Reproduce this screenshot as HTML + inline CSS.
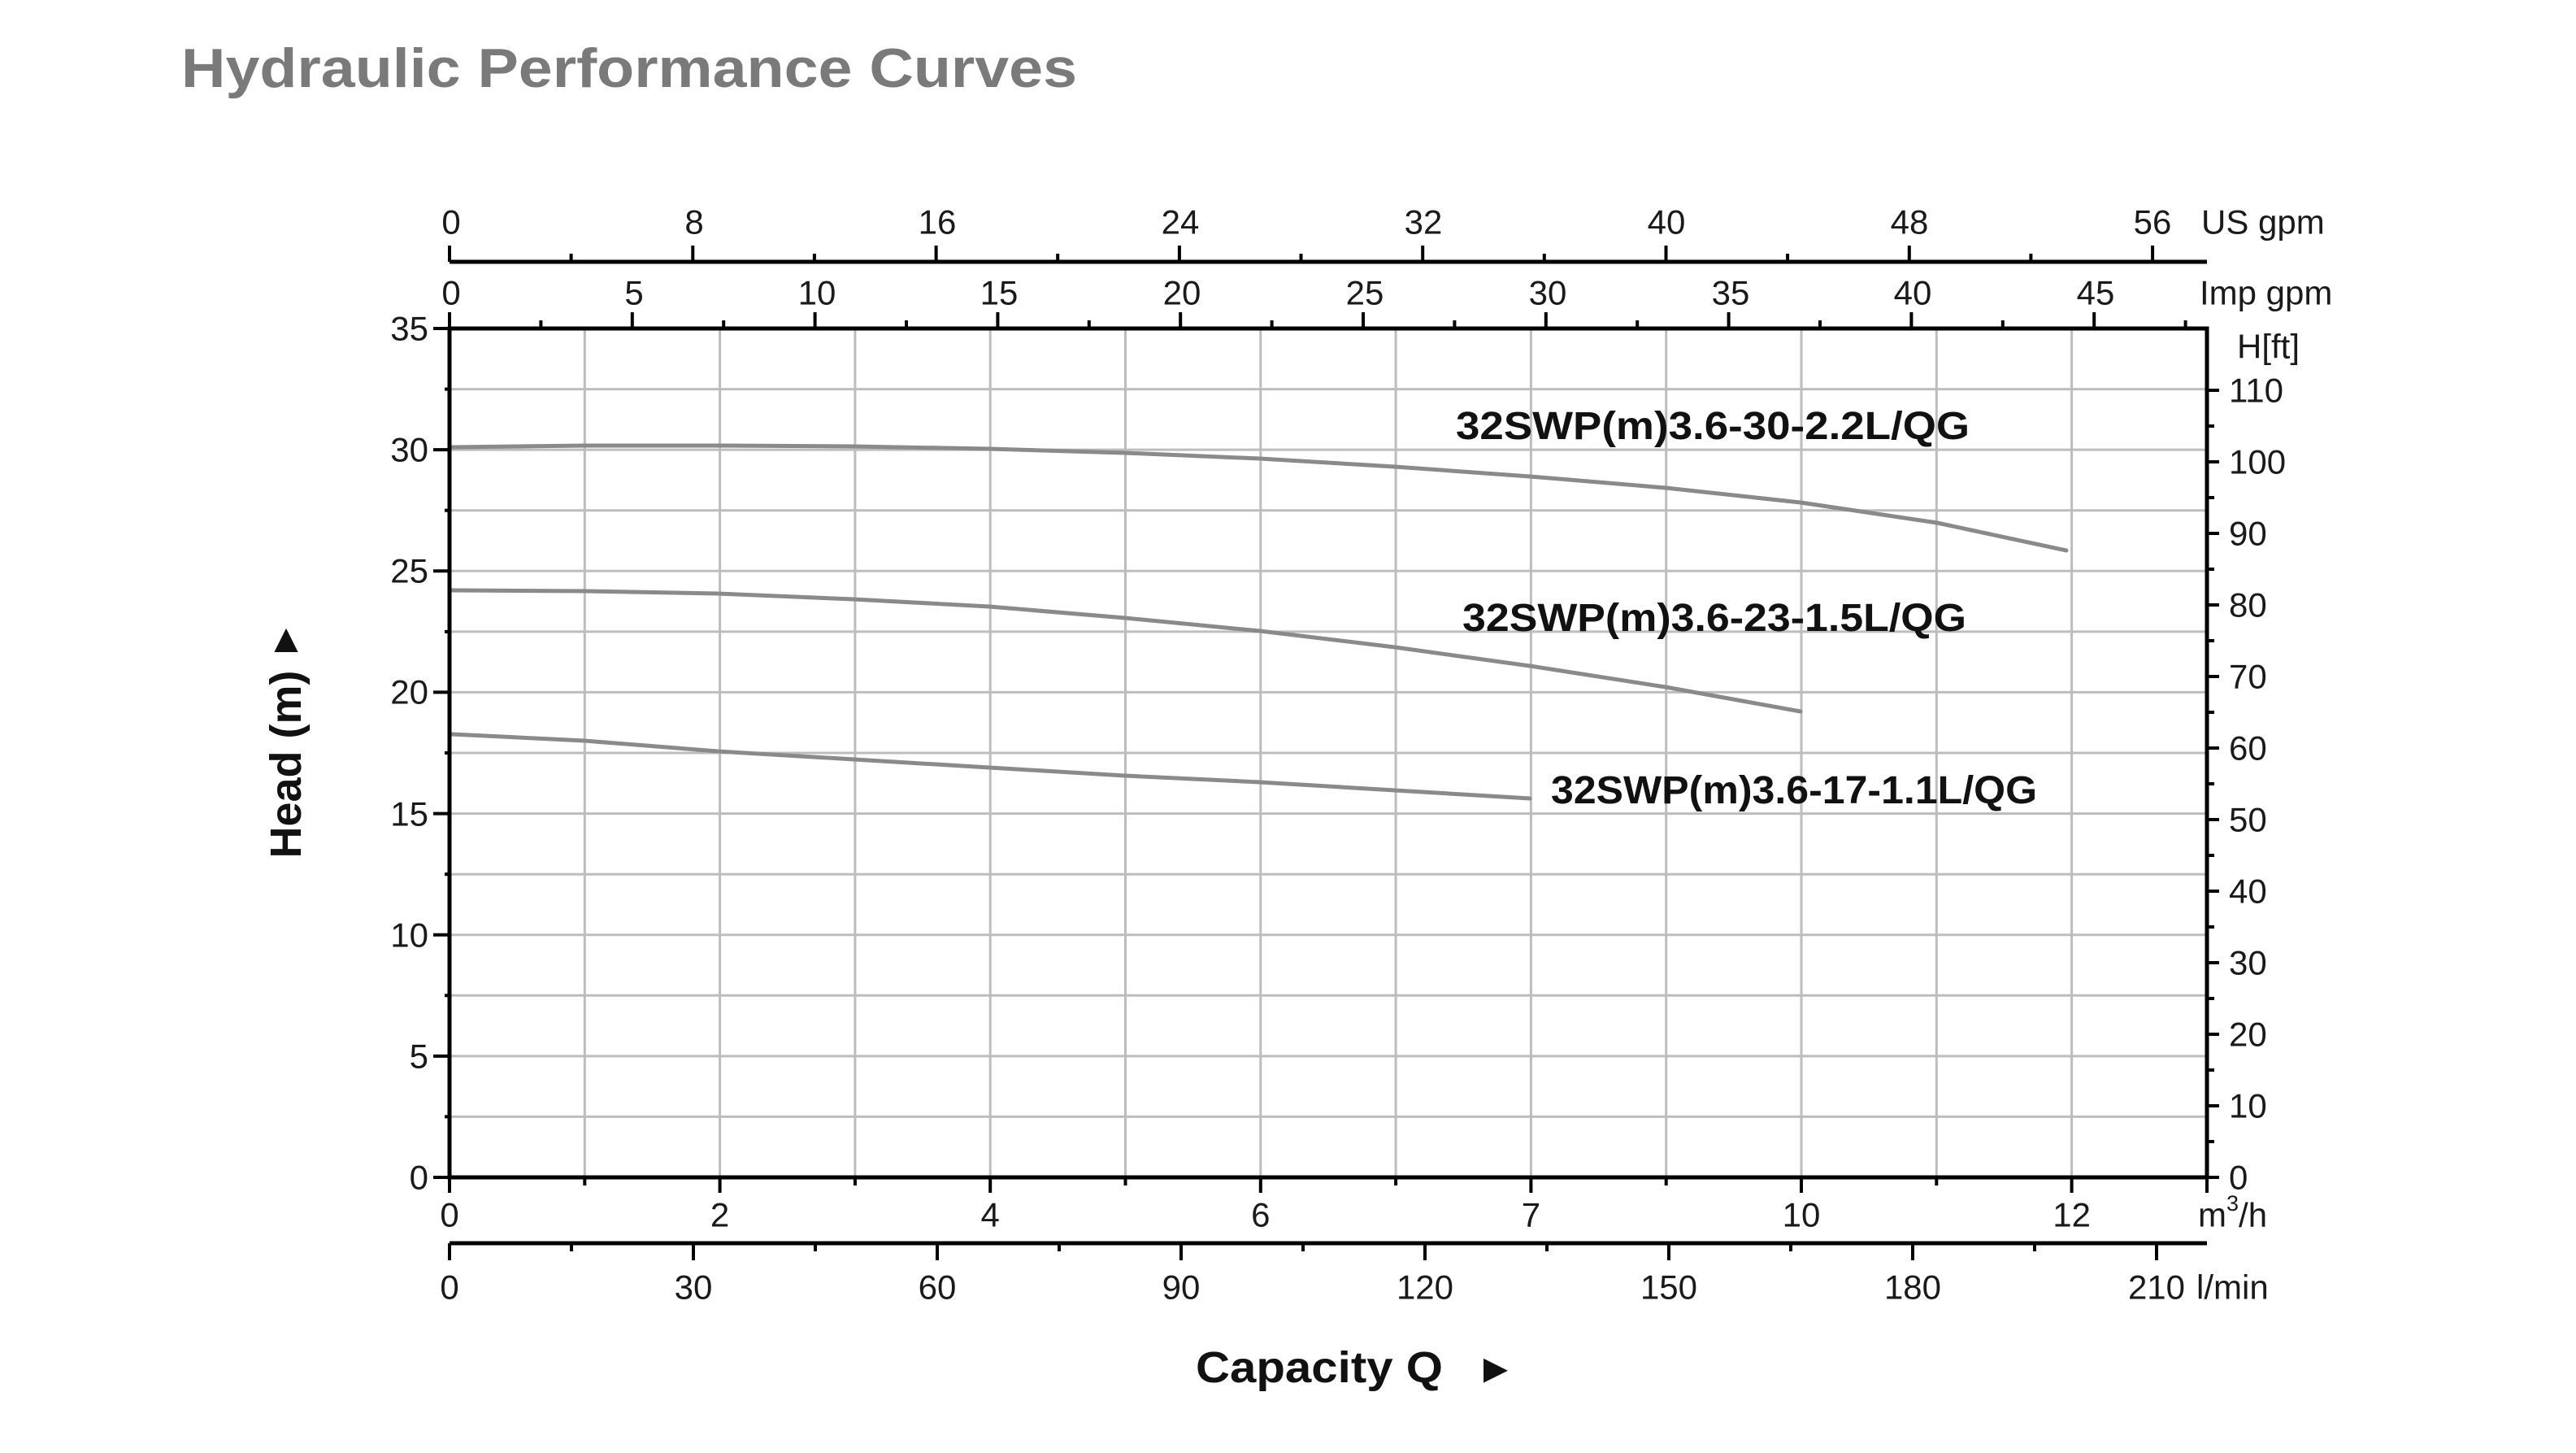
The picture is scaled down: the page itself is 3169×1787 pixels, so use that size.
<!DOCTYPE html>
<html><head><meta charset="utf-8"><style>
html,body{margin:0;padding:0;background:#fff;}
svg{display:block;font-family:"Liberation Sans",sans-serif;}
</style></head><body>
<svg width="3169" height="1787" viewBox="0 0 3169 1787" xmlns="http://www.w3.org/2000/svg">
<rect width="3169" height="1787" fill="#fff"/>
<text x="223" y="107" font-size="68" font-weight="bold" fill="#7a7a7a" textLength="1102" lengthAdjust="spacingAndGlyphs">Hydraulic Performance Curves</text>

<g stroke="#bdbdbd" stroke-width="3">
<line x1="719.3" y1="404" x2="719.3" y2="1448"/><line x1="885.6" y1="404" x2="885.6" y2="1448"/><line x1="1051.9" y1="404" x2="1051.9" y2="1448"/><line x1="1218.2" y1="404" x2="1218.2" y2="1448"/><line x1="1384.5" y1="404" x2="1384.5" y2="1448"/><line x1="1550.8" y1="404" x2="1550.8" y2="1448"/><line x1="1717.1" y1="404" x2="1717.1" y2="1448"/><line x1="1883.4" y1="404" x2="1883.4" y2="1448"/><line x1="2049.7" y1="404" x2="2049.7" y2="1448"/><line x1="2216" y1="404" x2="2216" y2="1448"/><line x1="2382.3" y1="404" x2="2382.3" y2="1448"/><line x1="2548.6" y1="404" x2="2548.6" y2="1448"/>
<line x1="553" y1="1373.4" x2="2715" y2="1373.4"/><line x1="553" y1="1298.9" x2="2715" y2="1298.9"/><line x1="553" y1="1224.3" x2="2715" y2="1224.3"/><line x1="553" y1="1149.7" x2="2715" y2="1149.7"/><line x1="553" y1="1075.2" x2="2715" y2="1075.2"/><line x1="553" y1="1000.6" x2="2715" y2="1000.6"/><line x1="553" y1="926" x2="2715" y2="926"/><line x1="553" y1="851.4" x2="2715" y2="851.4"/><line x1="553" y1="776.9" x2="2715" y2="776.9"/><line x1="553" y1="702.3" x2="2715" y2="702.3"/><line x1="553" y1="627.7" x2="2715" y2="627.7"/><line x1="553" y1="553.1" x2="2715" y2="553.1"/><line x1="553" y1="478.6" x2="2715" y2="478.6"/>
</g>

<g fill="none" stroke="#8a8a8a" stroke-width="5" stroke-linecap="round" stroke-linejoin="round">
<polyline points="556,550 720,548 883,548 1050,549 1217,552 1384,557 1550,564 1716,574 1882,586 2049,600 2215,618 2383,643 2542,677"/>
<polyline points="556,726 720,727 883,730 1050,737 1217,746 1384,760 1550,776 1716,796 1882,819 2049,845 2215,875"/>
<polyline points="556,903 719,911 883,924 1051,934 1217,944 1384,954 1550,962 1716,972 1882,982"/>
</g>

<g stroke="#000" stroke-width="5" fill="none">
<rect x="553" y="404" width="2162" height="1044"/>
<line x1="553" y1="322" x2="2715" y2="322"/>
<line x1="553" y1="1529" x2="2715" y2="1529"/>
</g>
<g stroke="#000" stroke-width="4">
<line x1="533" y1="404" x2="553" y2="404"/><line x1="533" y1="553.1" x2="553" y2="553.1"/><line x1="533" y1="702.3" x2="553" y2="702.3"/><line x1="533" y1="851.4" x2="553" y2="851.4"/><line x1="533" y1="1000.6" x2="553" y2="1000.6"/><line x1="533" y1="1149.7" x2="553" y2="1149.7"/><line x1="533" y1="1298.9" x2="553" y2="1298.9"/><line x1="533" y1="1448" x2="553" y2="1448"/>
<line x1="547" y1="478.6" x2="553" y2="478.6"/><line x1="547" y1="627.7" x2="553" y2="627.7"/><line x1="547" y1="776.9" x2="553" y2="776.9"/><line x1="547" y1="926" x2="553" y2="926"/><line x1="547" y1="1075.2" x2="553" y2="1075.2"/><line x1="547" y1="1224.3" x2="553" y2="1224.3"/><line x1="547" y1="1373.4" x2="553" y2="1373.4"/>
<line x1="553" y1="1448" x2="553" y2="1467"/><line x1="885.6" y1="1448" x2="885.6" y2="1467"/><line x1="1218.2" y1="1448" x2="1218.2" y2="1467"/><line x1="1550.8" y1="1448" x2="1550.8" y2="1467"/><line x1="1883.4" y1="1448" x2="1883.4" y2="1467"/><line x1="2216" y1="1448" x2="2216" y2="1467"/><line x1="2548.6" y1="1448" x2="2548.6" y2="1467"/><line x1="2715" y1="1448" x2="2715" y2="1467"/>
<line x1="719.3" y1="1448" x2="719.3" y2="1458"/><line x1="1051.9" y1="1448" x2="1051.9" y2="1458"/><line x1="1384.5" y1="1448" x2="1384.5" y2="1458"/><line x1="1717.1" y1="1448" x2="1717.1" y2="1458"/><line x1="2049.7" y1="1448" x2="2049.7" y2="1458"/><line x1="2382.3" y1="1448" x2="2382.3" y2="1458"/>
<line x1="553" y1="384" x2="553" y2="404"/><line x1="777.8" y1="384" x2="777.8" y2="404"/><line x1="1002.6" y1="384" x2="1002.6" y2="404"/><line x1="1227.4" y1="384" x2="1227.4" y2="404"/><line x1="1452.2" y1="384" x2="1452.2" y2="404"/><line x1="1677" y1="384" x2="1677" y2="404"/><line x1="1901.8" y1="384" x2="1901.8" y2="404"/><line x1="2126.6" y1="384" x2="2126.6" y2="404"/><line x1="2351.4" y1="384" x2="2351.4" y2="404"/><line x1="2576.2" y1="384" x2="2576.2" y2="404"/>
<line x1="665.4" y1="394" x2="665.4" y2="404"/><line x1="890.2" y1="394" x2="890.2" y2="404"/><line x1="1115" y1="394" x2="1115" y2="404"/><line x1="1339.8" y1="394" x2="1339.8" y2="404"/><line x1="1564.6" y1="394" x2="1564.6" y2="404"/><line x1="1789.4" y1="394" x2="1789.4" y2="404"/><line x1="2014.2" y1="394" x2="2014.2" y2="404"/><line x1="2239" y1="394" x2="2239" y2="404"/><line x1="2463.8" y1="394" x2="2463.8" y2="404"/><line x1="2688.6" y1="394" x2="2688.6" y2="404"/>
<line x1="553" y1="302" x2="553" y2="322"/><line x1="852.3" y1="302" x2="852.3" y2="322"/><line x1="1151.6" y1="302" x2="1151.6" y2="322"/><line x1="1450.9" y1="302" x2="1450.9" y2="322"/><line x1="1750.2" y1="302" x2="1750.2" y2="322"/><line x1="2049.5" y1="302" x2="2049.5" y2="322"/><line x1="2348.8" y1="302" x2="2348.8" y2="322"/><line x1="2648.1" y1="302" x2="2648.1" y2="322"/>
<line x1="702.6" y1="312" x2="702.6" y2="322"/><line x1="1001.9" y1="312" x2="1001.9" y2="322"/><line x1="1301.2" y1="312" x2="1301.2" y2="322"/><line x1="1600.5" y1="312" x2="1600.5" y2="322"/><line x1="1899.8" y1="312" x2="1899.8" y2="322"/><line x1="2199.1" y1="312" x2="2199.1" y2="322"/><line x1="2498.4" y1="312" x2="2498.4" y2="322"/>
<line x1="553" y1="1529" x2="553" y2="1550"/><line x1="853" y1="1529" x2="853" y2="1550"/><line x1="1153" y1="1529" x2="1153" y2="1550"/><line x1="1453" y1="1529" x2="1453" y2="1550"/><line x1="1753" y1="1529" x2="1753" y2="1550"/><line x1="2053" y1="1529" x2="2053" y2="1550"/><line x1="2353" y1="1529" x2="2353" y2="1550"/><line x1="2653" y1="1529" x2="2653" y2="1550"/>
<line x1="703" y1="1529" x2="703" y2="1539"/><line x1="1003" y1="1529" x2="1003" y2="1539"/><line x1="1303" y1="1529" x2="1303" y2="1539"/><line x1="1603" y1="1529" x2="1603" y2="1539"/><line x1="1903" y1="1529" x2="1903" y2="1539"/><line x1="2203" y1="1529" x2="2203" y2="1539"/><line x1="2503" y1="1529" x2="2503" y2="1539"/>
<line x1="2715" y1="1448" x2="2730" y2="1448"/><line x1="2715" y1="1360" x2="2730" y2="1360"/><line x1="2715" y1="1272" x2="2730" y2="1272"/><line x1="2715" y1="1184" x2="2730" y2="1184"/><line x1="2715" y1="1096" x2="2730" y2="1096"/><line x1="2715" y1="1008" x2="2730" y2="1008"/><line x1="2715" y1="920" x2="2730" y2="920"/><line x1="2715" y1="832" x2="2730" y2="832"/><line x1="2715" y1="744" x2="2730" y2="744"/><line x1="2715" y1="656" x2="2730" y2="656"/><line x1="2715" y1="568" x2="2730" y2="568"/><line x1="2715" y1="480" x2="2730" y2="480"/>
<line x1="2715" y1="1404" x2="2724" y2="1404"/><line x1="2715" y1="1316" x2="2724" y2="1316"/><line x1="2715" y1="1228" x2="2724" y2="1228"/><line x1="2715" y1="1140" x2="2724" y2="1140"/><line x1="2715" y1="1052" x2="2724" y2="1052"/><line x1="2715" y1="964" x2="2724" y2="964"/><line x1="2715" y1="876" x2="2724" y2="876"/><line x1="2715" y1="788" x2="2724" y2="788"/><line x1="2715" y1="700" x2="2724" y2="700"/><line x1="2715" y1="612" x2="2724" y2="612"/><line x1="2715" y1="524" x2="2724" y2="524"/>
</g>

<g font-size="42" fill="#1a1a1a" dominant-baseline="central">
<g text-anchor="middle">
<text x="555" y="273">0</text><text x="854" y="273">8</text><text x="1153" y="273">16</text><text x="1452" y="273">24</text><text x="1751" y="273">32</text><text x="2050" y="273">40</text><text x="2349" y="273">48</text><text x="2648" y="273">56</text>
<text x="555" y="360">0</text><text x="780" y="360">5</text><text x="1005" y="360">10</text><text x="1229" y="360">15</text><text x="1454" y="360">20</text><text x="1679" y="360">25</text><text x="1904" y="360">30</text><text x="2129" y="360">35</text><text x="2353" y="360">40</text><text x="2578" y="360">45</text>
<text x="553" y="1494">0</text><text x="885.6" y="1494">2</text><text x="1218.2" y="1494">4</text><text x="1550.8" y="1494">6</text><text x="1883.4" y="1494">7</text><text x="2216" y="1494">10</text><text x="2548.6" y="1494">12</text>
<text x="553" y="1583">0</text><text x="853" y="1583">30</text><text x="1153" y="1583">60</text><text x="1453" y="1583">90</text><text x="1753" y="1583">120</text><text x="2053" y="1583">150</text><text x="2353" y="1583">180</text><text x="2653" y="1583">210</text>
</g>
<text x="2708" y="273">US gpm</text>
<text x="2706" y="360">Imp gpm</text>
<text x="2704" y="1494">m<tspan font-size="27" dy="-14">3</tspan><tspan dy="14">/h</tspan></text>
<text x="2702" y="1583">l/min</text>
<g text-anchor="end">
<text x="527" y="404">35</text><text x="527" y="553">30</text><text x="527" y="702">25</text><text x="527" y="851">20</text><text x="527" y="1001">15</text><text x="527" y="1150">10</text><text x="527" y="1299">5</text><text x="527" y="1448">0</text>
</g>
<text x="2752" y="426">H[ft]</text>
<text x="2742" y="480">110</text><text x="2742" y="568">100</text><text x="2742" y="656">90</text><text x="2742" y="744">80</text><text x="2742" y="832">70</text><text x="2742" y="920">60</text><text x="2742" y="1008">50</text><text x="2742" y="1096">40</text><text x="2742" y="1184">30</text><text x="2742" y="1272">20</text><text x="2742" y="1360">10</text><text x="2742" y="1448">0</text>
</g>

<g font-size="48" font-weight="bold" fill="#111">
<text x="1791" y="540" textLength="632" lengthAdjust="spacingAndGlyphs">32SWP(m)3.6-30-2.2L/QG</text>
<text x="1799" y="776" textLength="620" lengthAdjust="spacingAndGlyphs">32SWP(m)3.6-23-1.5L/QG</text>
<text x="1908" y="988" textLength="598" lengthAdjust="spacingAndGlyphs">32SWP(m)3.6-17-1.1L/QG</text>
</g>

<text transform="translate(370,940) rotate(-90)" text-anchor="middle" font-size="54" font-weight="bold" fill="#111">Head (m)</text>
<text x="352" y="802" text-anchor="middle" font-size="50" fill="#111">▲</text>
<text x="1471" y="1700" font-size="54" font-weight="bold" fill="#111" textLength="304" lengthAdjust="spacingAndGlyphs">Capacity Q</text>
<text x="1840" y="1700" text-anchor="middle" font-size="50" fill="#111">►</text>
</svg>
</body></html>
